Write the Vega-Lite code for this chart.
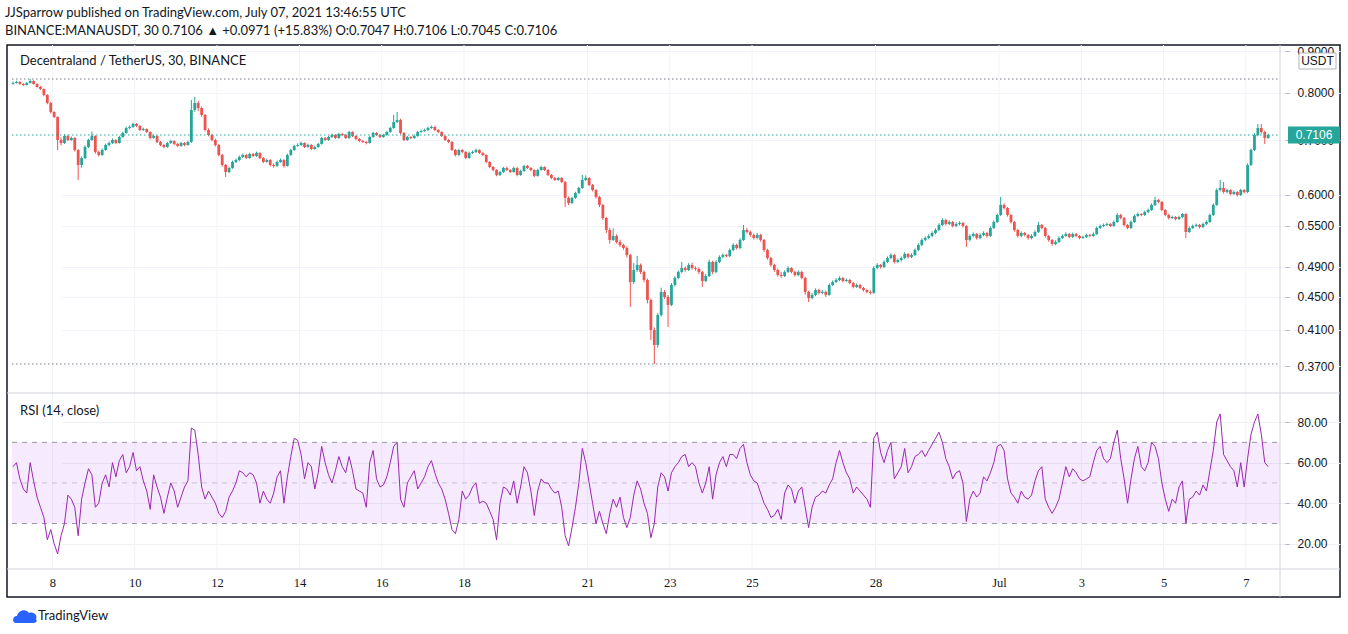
{
"$schema":"https://vega.github.io/schema/vega-lite/v6.json",
"width":1333,"height":552,
"autosize":{"type":"none"},
"padding":{"left":7,"top":45,"right":8,"bottom":37},
"background":"white",
"title":{"text":"JJSparrow published on TradingView.com, July 07, 2021 13:46:55 UTC","subtitle":"BINANCE:MANAUSDT, 30  0.7106 ▲ +0.0971 (+15.83%)  O:0.7047  H:0.7106  L:0.7045  C:0.7106","anchor":"start","frame":"group","font":"Lato","fontSize":13,"fontWeight":"normal","color":"#131722","subtitleFont":"Lato","subtitleFontSize":13,"subtitleColor":"#131722","subtitlePadding":5,"offset":7,"dx":-2},
"datasets":{
"last":[{"c":0.7106}],
"days":[{"t":"2021-06-08T00:00Z"},{"t":"2021-06-10T00:00Z"},{"t":"2021-06-12T00:00Z"},{"t":"2021-06-14T00:00Z"},{"t":"2021-06-16T00:00Z"},{"t":"2021-06-18T00:00Z"},{"t":"2021-06-21T00:00Z"},{"t":"2021-06-23T00:00Z"},{"t":"2021-06-25T00:00Z"},{"t":"2021-06-28T00:00Z"},{"t":"2021-07-01T00:00Z"},{"t":"2021-07-03T00:00Z"},{"t":"2021-07-05T00:00Z"},{"t":"2021-07-07T00:00Z"}],
"candles":[
{"t":"2021-06-07T01:00Z","o":0.8210,"h":0.8262,"l":0.8190,"c":0.8230,"r":58},
{"t":"2021-06-07T03:00Z","o":0.8230,"h":0.8280,"l":0.8215,"c":0.8253,"r":60},
{"t":"2021-06-07T05:00Z","o":0.8253,"h":0.8270,"l":0.8190,"c":0.8207,"r":52},
{"t":"2021-06-07T07:00Z","o":0.8207,"h":0.8225,"l":0.8160,"c":0.8183,"r":47},
{"t":"2021-06-07T09:00Z","o":0.8183,"h":0.8250,"l":0.8170,"c":0.8230,"r":45},
{"t":"2021-06-07T11:00Z","o":0.8230,"h":0.8322,"l":0.8215,"c":0.8276,"r":60},
{"t":"2021-06-07T13:00Z","o":0.8276,"h":0.8290,"l":0.8190,"c":0.8207,"r":51},
{"t":"2021-06-07T15:00Z","o":0.8207,"h":0.8220,"l":0.8120,"c":0.8137,"r":43},
{"t":"2021-06-07T17:00Z","o":0.8137,"h":0.8160,"l":0.8070,"c":0.8091,"r":38},
{"t":"2021-06-07T19:00Z","o":0.8091,"h":0.8105,"l":0.7930,"c":0.7956,"r":33},
{"t":"2021-06-07T21:00Z","o":0.7956,"h":0.7975,"l":0.7750,"c":0.7778,"r":22},
{"t":"2021-06-07T23:00Z","o":0.7778,"h":0.7800,"l":0.7550,"c":0.7583,"r":27},
{"t":"2021-06-08T01:00Z","o":0.7583,"h":0.7600,"l":0.7455,"c":0.7477,"r":20},
{"t":"2021-06-08T03:00Z","o":0.7477,"h":0.7490,"l":0.6812,"c":0.7007,"r":15},
{"t":"2021-06-08T05:00Z","o":0.7007,"h":0.7060,"l":0.6900,"c":0.6948,"r":24},
{"t":"2021-06-08T07:00Z","o":0.6948,"h":0.7120,"l":0.6930,"c":0.7087,"r":30},
{"t":"2021-06-08T09:00Z","o":0.7087,"h":0.7110,"l":0.6985,"c":0.7007,"r":44},
{"t":"2021-06-08T11:00Z","o":0.7007,"h":0.7075,"l":0.6990,"c":0.7047,"r":42},
{"t":"2021-06-08T13:00Z","o":0.7047,"h":0.7060,"l":0.6780,"c":0.6812,"r":38},
{"t":"2021-06-08T15:00Z","o":0.6812,"h":0.6830,"l":0.6259,"c":0.6530,"r":24},
{"t":"2021-06-08T17:00Z","o":0.6530,"h":0.6690,"l":0.6480,"c":0.6660,"r":42},
{"t":"2021-06-08T19:00Z","o":0.6660,"h":0.6900,"l":0.6640,"c":0.6870,"r":50},
{"t":"2021-06-08T21:00Z","o":0.6870,"h":0.7030,"l":0.6850,"c":0.7007,"r":57},
{"t":"2021-06-08T23:00Z","o":0.7007,"h":0.7174,"l":0.6990,"c":0.7087,"r":54},
{"t":"2021-06-09T01:00Z","o":0.7087,"h":0.7100,"l":0.6740,"c":0.6774,"r":38},
{"t":"2021-06-09T03:00Z","o":0.6774,"h":0.6800,"l":0.6689,"c":0.6717,"r":40},
{"t":"2021-06-09T05:00Z","o":0.6717,"h":0.6840,"l":0.6700,"c":0.6812,"r":50},
{"t":"2021-06-09T07:00Z","o":0.6812,"h":0.6935,"l":0.6795,"c":0.6909,"r":54},
{"t":"2021-06-09T09:00Z","o":0.6909,"h":0.6975,"l":0.6880,"c":0.6948,"r":48},
{"t":"2021-06-09T11:00Z","o":0.6948,"h":0.7040,"l":0.6930,"c":0.7007,"r":60},
{"t":"2021-06-09T13:00Z","o":0.7007,"h":0.7025,"l":0.6925,"c":0.6948,"r":53},
{"t":"2021-06-09T15:00Z","o":0.6948,"h":0.7090,"l":0.6935,"c":0.7067,"r":61},
{"t":"2021-06-09T17:00Z","o":0.7067,"h":0.7175,"l":0.7050,"c":0.7147,"r":64},
{"t":"2021-06-09T19:00Z","o":0.7147,"h":0.7275,"l":0.7130,"c":0.7248,"r":55},
{"t":"2021-06-09T21:00Z","o":0.7248,"h":0.7300,"l":0.7225,"c":0.7269,"r":58},
{"t":"2021-06-09T23:00Z","o":0.7269,"h":0.7360,"l":0.7250,"c":0.7331,"r":65},
{"t":"2021-06-10T01:00Z","o":0.7331,"h":0.7350,"l":0.7265,"c":0.7290,"r":56},
{"t":"2021-06-10T03:00Z","o":0.7290,"h":0.7310,"l":0.7185,"c":0.7207,"r":58},
{"t":"2021-06-10T05:00Z","o":0.7207,"h":0.7255,"l":0.7190,"c":0.7228,"r":51},
{"t":"2021-06-10T07:00Z","o":0.7228,"h":0.7240,"l":0.7145,"c":0.7167,"r":46},
{"t":"2021-06-10T09:00Z","o":0.7167,"h":0.7180,"l":0.7020,"c":0.7047,"r":37},
{"t":"2021-06-10T11:00Z","o":0.7047,"h":0.7115,"l":0.7030,"c":0.7087,"r":54},
{"t":"2021-06-10T13:00Z","o":0.7087,"h":0.7100,"l":0.6945,"c":0.6968,"r":48},
{"t":"2021-06-10T15:00Z","o":0.6968,"h":0.6990,"l":0.6885,"c":0.6909,"r":43},
{"t":"2021-06-10T17:00Z","o":0.6909,"h":0.6930,"l":0.6845,"c":0.6870,"r":35},
{"t":"2021-06-10T19:00Z","o":0.6870,"h":0.6970,"l":0.6855,"c":0.6948,"r":43},
{"t":"2021-06-10T21:00Z","o":0.6948,"h":0.7010,"l":0.6930,"c":0.6987,"r":50},
{"t":"2021-06-10T23:00Z","o":0.6987,"h":0.7000,"l":0.6905,"c":0.6929,"r":46},
{"t":"2021-06-11T01:00Z","o":0.6929,"h":0.6950,"l":0.6865,"c":0.6890,"r":38},
{"t":"2021-06-11T03:00Z","o":0.6890,"h":0.6970,"l":0.6875,"c":0.6948,"r":43},
{"t":"2021-06-11T05:00Z","o":0.6948,"h":0.6965,"l":0.6885,"c":0.6909,"r":48},
{"t":"2021-06-11T07:00Z","o":0.6909,"h":0.6995,"l":0.6895,"c":0.6968,"r":51},
{"t":"2021-06-11T09:00Z","o":0.6968,"h":0.7844,"l":0.6950,"c":0.7625,"r":77},
{"t":"2021-06-11T11:00Z","o":0.7625,"h":0.7911,"l":0.7590,"c":0.7778,"r":76},
{"t":"2021-06-11T13:00Z","o":0.7778,"h":0.7830,"l":0.7600,"c":0.7669,"r":64},
{"t":"2021-06-11T15:00Z","o":0.7669,"h":0.7700,"l":0.7480,"c":0.7519,"r":48},
{"t":"2021-06-11T17:00Z","o":0.7519,"h":0.7540,"l":0.7180,"c":0.7207,"r":42},
{"t":"2021-06-11T19:00Z","o":0.7207,"h":0.7240,"l":0.7080,"c":0.7107,"r":46},
{"t":"2021-06-11T21:00Z","o":0.7107,"h":0.7130,"l":0.6980,"c":0.7007,"r":43},
{"t":"2021-06-11T23:00Z","o":0.7007,"h":0.7030,"l":0.6880,"c":0.6909,"r":40},
{"t":"2021-06-12T01:00Z","o":0.6909,"h":0.6925,"l":0.6690,"c":0.6717,"r":35},
{"t":"2021-06-12T03:00Z","o":0.6717,"h":0.6735,"l":0.6500,"c":0.6530,"r":33},
{"t":"2021-06-12T05:00Z","o":0.6530,"h":0.6550,"l":0.6313,"c":0.6402,"r":36},
{"t":"2021-06-12T07:00Z","o":0.6402,"h":0.6500,"l":0.6380,"c":0.6475,"r":43},
{"t":"2021-06-12T09:00Z","o":0.6475,"h":0.6610,"l":0.6460,"c":0.6586,"r":46},
{"t":"2021-06-12T11:00Z","o":0.6586,"h":0.6650,"l":0.6565,"c":0.6622,"r":50},
{"t":"2021-06-12T13:00Z","o":0.6622,"h":0.6705,"l":0.6600,"c":0.6679,"r":56},
{"t":"2021-06-12T15:00Z","o":0.6679,"h":0.6745,"l":0.6660,"c":0.6717,"r":55},
{"t":"2021-06-12T17:00Z","o":0.6717,"h":0.6735,"l":0.6640,"c":0.6660,"r":53},
{"t":"2021-06-12T19:00Z","o":0.6660,"h":0.6760,"l":0.6645,"c":0.6736,"r":55},
{"t":"2021-06-12T21:00Z","o":0.6736,"h":0.6755,"l":0.6675,"c":0.6698,"r":54},
{"t":"2021-06-12T23:00Z","o":0.6698,"h":0.6780,"l":0.6680,"c":0.6755,"r":50},
{"t":"2021-06-13T01:00Z","o":0.6755,"h":0.6770,"l":0.6640,"c":0.6660,"r":40},
{"t":"2021-06-13T03:00Z","o":0.6660,"h":0.6680,"l":0.6565,"c":0.6586,"r":46},
{"t":"2021-06-13T05:00Z","o":0.6586,"h":0.6645,"l":0.6570,"c":0.6622,"r":42},
{"t":"2021-06-13T07:00Z","o":0.6622,"h":0.6640,"l":0.6505,"c":0.6530,"r":40},
{"t":"2021-06-13T09:00Z","o":0.6530,"h":0.6560,"l":0.6480,"c":0.6512,"r":45},
{"t":"2021-06-13T11:00Z","o":0.6512,"h":0.6610,"l":0.6495,"c":0.6586,"r":53},
{"t":"2021-06-13T13:00Z","o":0.6586,"h":0.6650,"l":0.6570,"c":0.6622,"r":56},
{"t":"2021-06-13T15:00Z","o":0.6622,"h":0.6640,"l":0.6480,"c":0.6512,"r":40},
{"t":"2021-06-13T17:00Z","o":0.6512,"h":0.6740,"l":0.6500,"c":0.6717,"r":53},
{"t":"2021-06-13T19:00Z","o":0.6717,"h":0.6835,"l":0.6700,"c":0.6812,"r":63},
{"t":"2021-06-13T21:00Z","o":0.6812,"h":0.6915,"l":0.6795,"c":0.6890,"r":72},
{"t":"2021-06-13T23:00Z","o":0.6890,"h":0.6940,"l":0.6875,"c":0.6909,"r":71},
{"t":"2021-06-14T01:00Z","o":0.6909,"h":0.6975,"l":0.6890,"c":0.6948,"r":64},
{"t":"2021-06-14T03:00Z","o":0.6948,"h":0.6960,"l":0.6850,"c":0.6870,"r":52},
{"t":"2021-06-14T05:00Z","o":0.6870,"h":0.6935,"l":0.6855,"c":0.6909,"r":60},
{"t":"2021-06-14T07:00Z","o":0.6909,"h":0.6925,"l":0.6810,"c":0.6831,"r":58},
{"t":"2021-06-14T09:00Z","o":0.6831,"h":0.6895,"l":0.6815,"c":0.6870,"r":47},
{"t":"2021-06-14T11:00Z","o":0.6870,"h":0.6950,"l":0.6855,"c":0.6929,"r":55},
{"t":"2021-06-14T13:00Z","o":0.6929,"h":0.7070,"l":0.6915,"c":0.7047,"r":68},
{"t":"2021-06-14T15:00Z","o":0.7047,"h":0.7065,"l":0.6985,"c":0.7007,"r":60},
{"t":"2021-06-14T17:00Z","o":0.7007,"h":0.7090,"l":0.6990,"c":0.7067,"r":54},
{"t":"2021-06-14T19:00Z","o":0.7067,"h":0.7135,"l":0.7050,"c":0.7107,"r":50},
{"t":"2021-06-14T21:00Z","o":0.7107,"h":0.7125,"l":0.7025,"c":0.7047,"r":56},
{"t":"2021-06-14T23:00Z","o":0.7047,"h":0.7150,"l":0.7030,"c":0.7127,"r":63},
{"t":"2021-06-15T01:00Z","o":0.7127,"h":0.7150,"l":0.7085,"c":0.7107,"r":58},
{"t":"2021-06-15T03:00Z","o":0.7107,"h":0.7125,"l":0.7025,"c":0.7047,"r":55},
{"t":"2021-06-15T05:00Z","o":0.7047,"h":0.7190,"l":0.7030,"c":0.7167,"r":63},
{"t":"2021-06-15T07:00Z","o":0.7167,"h":0.7180,"l":0.7065,"c":0.7087,"r":56},
{"t":"2021-06-15T09:00Z","o":0.7087,"h":0.7100,"l":0.7005,"c":0.7027,"r":47},
{"t":"2021-06-15T11:00Z","o":0.7027,"h":0.7045,"l":0.6965,"c":0.6987,"r":46},
{"t":"2021-06-15T13:00Z","o":0.6987,"h":0.7010,"l":0.6945,"c":0.6968,"r":45},
{"t":"2021-06-15T15:00Z","o":0.6968,"h":0.6985,"l":0.6920,"c":0.6948,"r":38},
{"t":"2021-06-15T17:00Z","o":0.6948,"h":0.7090,"l":0.6935,"c":0.7067,"r":60},
{"t":"2021-06-15T19:00Z","o":0.7067,"h":0.7170,"l":0.7050,"c":0.7147,"r":66},
{"t":"2021-06-15T21:00Z","o":0.7147,"h":0.7165,"l":0.7085,"c":0.7107,"r":52},
{"t":"2021-06-15T23:00Z","o":0.7107,"h":0.7125,"l":0.7045,"c":0.7067,"r":48},
{"t":"2021-06-16T01:00Z","o":0.7067,"h":0.7130,"l":0.7050,"c":0.7107,"r":49},
{"t":"2021-06-16T03:00Z","o":0.7107,"h":0.7190,"l":0.7090,"c":0.7167,"r":53},
{"t":"2021-06-16T05:00Z","o":0.7167,"h":0.7270,"l":0.7150,"c":0.7248,"r":60},
{"t":"2021-06-16T07:00Z","o":0.7248,"h":0.7519,"l":0.7230,"c":0.7372,"r":68},
{"t":"2021-06-16T09:00Z","o":0.7372,"h":0.7583,"l":0.7350,"c":0.7413,"r":70},
{"t":"2021-06-16T11:00Z","o":0.7413,"h":0.7440,"l":0.7120,"c":0.7147,"r":42},
{"t":"2021-06-16T13:00Z","o":0.7147,"h":0.7165,"l":0.6985,"c":0.7007,"r":38},
{"t":"2021-06-16T15:00Z","o":0.7007,"h":0.7090,"l":0.6990,"c":0.7067,"r":50},
{"t":"2021-06-16T17:00Z","o":0.7067,"h":0.7085,"l":0.7025,"c":0.7047,"r":53},
{"t":"2021-06-16T19:00Z","o":0.7047,"h":0.7110,"l":0.7030,"c":0.7087,"r":56},
{"t":"2021-06-16T21:00Z","o":0.7087,"h":0.7190,"l":0.7070,"c":0.7167,"r":47},
{"t":"2021-06-16T23:00Z","o":0.7167,"h":0.7215,"l":0.7150,"c":0.7187,"r":50},
{"t":"2021-06-17T01:00Z","o":0.7187,"h":0.7235,"l":0.7170,"c":0.7207,"r":53},
{"t":"2021-06-17T03:00Z","o":0.7207,"h":0.7275,"l":0.7190,"c":0.7248,"r":58},
{"t":"2021-06-17T05:00Z","o":0.7248,"h":0.7295,"l":0.7230,"c":0.7269,"r":61},
{"t":"2021-06-17T07:00Z","o":0.7269,"h":0.7285,"l":0.7185,"c":0.7207,"r":55},
{"t":"2021-06-17T09:00Z","o":0.7207,"h":0.7225,"l":0.7145,"c":0.7167,"r":50},
{"t":"2021-06-17T11:00Z","o":0.7167,"h":0.7180,"l":0.7065,"c":0.7087,"r":47},
{"t":"2021-06-17T13:00Z","o":0.7087,"h":0.7100,"l":0.6985,"c":0.7007,"r":42},
{"t":"2021-06-17T15:00Z","o":0.7007,"h":0.7025,"l":0.6945,"c":0.6968,"r":35},
{"t":"2021-06-17T17:00Z","o":0.6968,"h":0.6985,"l":0.6790,"c":0.6812,"r":27},
{"t":"2021-06-17T19:00Z","o":0.6812,"h":0.6830,"l":0.6689,"c":0.6717,"r":25},
{"t":"2021-06-17T21:00Z","o":0.6717,"h":0.6835,"l":0.6700,"c":0.6812,"r":32},
{"t":"2021-06-17T23:00Z","o":0.6812,"h":0.6830,"l":0.6750,"c":0.6774,"r":46},
{"t":"2021-06-18T01:00Z","o":0.6774,"h":0.6790,"l":0.6640,"c":0.6660,"r":42},
{"t":"2021-06-18T03:00Z","o":0.6660,"h":0.6780,"l":0.6645,"c":0.6755,"r":44},
{"t":"2021-06-18T05:00Z","o":0.6755,"h":0.6800,"l":0.6735,"c":0.6774,"r":48},
{"t":"2021-06-18T07:00Z","o":0.6774,"h":0.6835,"l":0.6755,"c":0.6812,"r":50},
{"t":"2021-06-18T09:00Z","o":0.6812,"h":0.6825,"l":0.6735,"c":0.6755,"r":40},
{"t":"2021-06-18T11:00Z","o":0.6755,"h":0.6770,"l":0.6695,"c":0.6717,"r":41},
{"t":"2021-06-18T13:00Z","o":0.6717,"h":0.6730,"l":0.6565,"c":0.6586,"r":40},
{"t":"2021-06-18T15:00Z","o":0.6586,"h":0.6600,"l":0.6470,"c":0.6493,"r":36},
{"t":"2021-06-18T17:00Z","o":0.6493,"h":0.6510,"l":0.6415,"c":0.6438,"r":32},
{"t":"2021-06-18T19:00Z","o":0.6438,"h":0.6455,"l":0.6325,"c":0.6349,"r":22},
{"t":"2021-06-18T21:00Z","o":0.6349,"h":0.6425,"l":0.6330,"c":0.6402,"r":40},
{"t":"2021-06-18T23:00Z","o":0.6402,"h":0.6495,"l":0.6385,"c":0.6475,"r":48},
{"t":"2021-06-19T01:00Z","o":0.6475,"h":0.6495,"l":0.6420,"c":0.6438,"r":47},
{"t":"2021-06-19T03:00Z","o":0.6438,"h":0.6455,"l":0.6385,"c":0.6402,"r":44},
{"t":"2021-06-19T05:00Z","o":0.6402,"h":0.6500,"l":0.6390,"c":0.6475,"r":51},
{"t":"2021-06-19T07:00Z","o":0.6475,"h":0.6490,"l":0.6325,"c":0.6349,"r":40},
{"t":"2021-06-19T09:00Z","o":0.6349,"h":0.6445,"l":0.6335,"c":0.6420,"r":48},
{"t":"2021-06-19T11:00Z","o":0.6420,"h":0.6535,"l":0.6405,"c":0.6512,"r":58},
{"t":"2021-06-19T13:00Z","o":0.6512,"h":0.6530,"l":0.6455,"c":0.6475,"r":55},
{"t":"2021-06-19T15:00Z","o":0.6475,"h":0.6490,"l":0.6415,"c":0.6438,"r":46},
{"t":"2021-06-19T17:00Z","o":0.6438,"h":0.6450,"l":0.6310,"c":0.6331,"r":34},
{"t":"2021-06-19T19:00Z","o":0.6331,"h":0.6460,"l":0.6320,"c":0.6438,"r":46},
{"t":"2021-06-19T21:00Z","o":0.6438,"h":0.6515,"l":0.6425,"c":0.6493,"r":52},
{"t":"2021-06-19T23:00Z","o":0.6493,"h":0.6505,"l":0.6420,"c":0.6438,"r":50},
{"t":"2021-06-20T01:00Z","o":0.6438,"h":0.6455,"l":0.6330,"c":0.6349,"r":50},
{"t":"2021-06-20T03:00Z","o":0.6349,"h":0.6365,"l":0.6275,"c":0.6295,"r":47},
{"t":"2021-06-20T05:00Z","o":0.6295,"h":0.6315,"l":0.6240,"c":0.6259,"r":45},
{"t":"2021-06-20T07:00Z","o":0.6259,"h":0.6315,"l":0.6245,"c":0.6295,"r":46},
{"t":"2021-06-20T09:00Z","o":0.6295,"h":0.6310,"l":0.6205,"c":0.6224,"r":38},
{"t":"2021-06-20T11:00Z","o":0.6224,"h":0.6240,"l":0.5801,"c":0.5950,"r":24},
{"t":"2021-06-20T13:00Z","o":0.5950,"h":0.5975,"l":0.5830,"c":0.5866,"r":19},
{"t":"2021-06-20T15:00Z","o":0.5866,"h":0.5970,"l":0.5850,"c":0.5950,"r":28},
{"t":"2021-06-20T17:00Z","o":0.5950,"h":0.6055,"l":0.5935,"c":0.6034,"r":38},
{"t":"2021-06-20T19:00Z","o":0.6034,"h":0.6140,"l":0.6015,"c":0.6120,"r":50},
{"t":"2021-06-20T21:00Z","o":0.6120,"h":0.6349,"l":0.6105,"c":0.6259,"r":67},
{"t":"2021-06-20T23:00Z","o":0.6259,"h":0.6340,"l":0.6240,"c":0.6295,"r":60},
{"t":"2021-06-21T01:00Z","o":0.6295,"h":0.6310,"l":0.6150,"c":0.6172,"r":50},
{"t":"2021-06-21T03:00Z","o":0.6172,"h":0.6190,"l":0.6060,"c":0.6085,"r":40},
{"t":"2021-06-21T05:00Z","o":0.6085,"h":0.6100,"l":0.5940,"c":0.5967,"r":30},
{"t":"2021-06-21T07:00Z","o":0.5967,"h":0.5985,"l":0.5800,"c":0.5834,"r":36},
{"t":"2021-06-21T09:00Z","o":0.5834,"h":0.5850,"l":0.5590,"c":0.5623,"r":30},
{"t":"2021-06-21T11:00Z","o":0.5623,"h":0.5640,"l":0.5390,"c":0.5436,"r":25},
{"t":"2021-06-21T13:00Z","o":0.5436,"h":0.5470,"l":0.5230,"c":0.5285,"r":35},
{"t":"2021-06-21T15:00Z","o":0.5285,"h":0.5460,"l":0.5270,"c":0.5345,"r":42},
{"t":"2021-06-21T17:00Z","o":0.5345,"h":0.5370,"l":0.5230,"c":0.5255,"r":38},
{"t":"2021-06-21T19:00Z","o":0.5255,"h":0.5290,"l":0.5180,"c":0.5211,"r":43},
{"t":"2021-06-21T21:00Z","o":0.5211,"h":0.5230,"l":0.5140,"c":0.5167,"r":33},
{"t":"2021-06-21T23:00Z","o":0.5167,"h":0.5190,"l":0.5030,"c":0.5066,"r":28},
{"t":"2021-06-22T01:00Z","o":0.5066,"h":0.5080,"l":0.4375,"c":0.4694,"r":33},
{"t":"2021-06-22T03:00Z","o":0.4694,"h":0.4950,"l":0.4670,"c":0.4856,"r":44},
{"t":"2021-06-22T05:00Z","o":0.4856,"h":0.5051,"l":0.4830,"c":0.4925,"r":51},
{"t":"2021-06-22T07:00Z","o":0.4925,"h":0.4945,"l":0.4800,"c":0.4829,"r":47},
{"t":"2021-06-22T09:00Z","o":0.4829,"h":0.4850,"l":0.4690,"c":0.4721,"r":40},
{"t":"2021-06-22T11:00Z","o":0.4721,"h":0.4740,"l":0.4420,"c":0.4462,"r":35},
{"t":"2021-06-22T13:00Z","o":0.4462,"h":0.4480,"l":0.3986,"c":0.4100,"r":23},
{"t":"2021-06-22T15:00Z","o":0.4100,"h":0.4130,"l":0.3725,"c":0.3930,"r":30},
{"t":"2021-06-22T17:00Z","o":0.3930,"h":0.4300,"l":0.3900,"c":0.4277,"r":48},
{"t":"2021-06-22T19:00Z","o":0.4277,"h":0.4620,"l":0.4260,"c":0.4564,"r":55},
{"t":"2021-06-22T21:00Z","o":0.4564,"h":0.4590,"l":0.4475,"c":0.4500,"r":53},
{"t":"2021-06-22T23:00Z","o":0.4500,"h":0.4525,"l":0.4135,"c":0.4400,"r":46},
{"t":"2021-06-23T01:00Z","o":0.4400,"h":0.4680,"l":0.4385,"c":0.4655,"r":55},
{"t":"2021-06-23T03:00Z","o":0.4655,"h":0.4770,"l":0.4635,"c":0.4748,"r":58},
{"t":"2021-06-23T05:00Z","o":0.4748,"h":0.4850,"l":0.4730,"c":0.4829,"r":60},
{"t":"2021-06-23T07:00Z","o":0.4829,"h":0.4966,"l":0.4810,"c":0.4883,"r":63},
{"t":"2021-06-23T09:00Z","o":0.4883,"h":0.4905,"l":0.4830,"c":0.4856,"r":64},
{"t":"2021-06-23T11:00Z","o":0.4856,"h":0.4950,"l":0.4840,"c":0.4925,"r":58},
{"t":"2021-06-23T13:00Z","o":0.4925,"h":0.4960,"l":0.4860,"c":0.4883,"r":60},
{"t":"2021-06-23T15:00Z","o":0.4883,"h":0.4905,"l":0.4845,"c":0.4870,"r":58},
{"t":"2021-06-23T17:00Z","o":0.4870,"h":0.4890,"l":0.4800,"c":0.4828,"r":50},
{"t":"2021-06-23T19:00Z","o":0.4828,"h":0.4845,"l":0.4629,"c":0.4707,"r":45},
{"t":"2021-06-23T21:00Z","o":0.4707,"h":0.4800,"l":0.4690,"c":0.4774,"r":50},
{"t":"2021-06-23T23:00Z","o":0.4774,"h":0.5000,"l":0.4760,"c":0.4967,"r":58},
{"t":"2021-06-24T01:00Z","o":0.4967,"h":0.4985,"l":0.4800,"c":0.4829,"r":42},
{"t":"2021-06-24T03:00Z","o":0.4829,"h":0.4990,"l":0.4810,"c":0.4967,"r":54},
{"t":"2021-06-24T05:00Z","o":0.4967,"h":0.5060,"l":0.4950,"c":0.5038,"r":60},
{"t":"2021-06-24T07:00Z","o":0.5038,"h":0.5090,"l":0.5020,"c":0.5066,"r":63},
{"t":"2021-06-24T09:00Z","o":0.5066,"h":0.5080,"l":0.5030,"c":0.5052,"r":58},
{"t":"2021-06-24T11:00Z","o":0.5052,"h":0.5160,"l":0.5035,"c":0.5138,"r":64},
{"t":"2021-06-24T13:00Z","o":0.5138,"h":0.5235,"l":0.5120,"c":0.5211,"r":64},
{"t":"2021-06-24T15:00Z","o":0.5211,"h":0.5230,"l":0.5145,"c":0.5167,"r":62},
{"t":"2021-06-24T17:00Z","o":0.5167,"h":0.5310,"l":0.5150,"c":0.5285,"r":67},
{"t":"2021-06-24T19:00Z","o":0.5285,"h":0.5513,"l":0.5270,"c":0.5436,"r":69},
{"t":"2021-06-24T21:00Z","o":0.5436,"h":0.5470,"l":0.5380,"c":0.5405,"r":60},
{"t":"2021-06-24T23:00Z","o":0.5405,"h":0.5425,"l":0.5335,"c":0.5360,"r":54},
{"t":"2021-06-25T01:00Z","o":0.5360,"h":0.5380,"l":0.5290,"c":0.5315,"r":51},
{"t":"2021-06-25T03:00Z","o":0.5315,"h":0.5390,"l":0.5295,"c":0.5360,"r":50},
{"t":"2021-06-25T05:00Z","o":0.5360,"h":0.5375,"l":0.5260,"c":0.5285,"r":45},
{"t":"2021-06-25T07:00Z","o":0.5285,"h":0.5300,"l":0.5110,"c":0.5138,"r":40},
{"t":"2021-06-25T09:00Z","o":0.5138,"h":0.5155,"l":0.5000,"c":0.5023,"r":37},
{"t":"2021-06-25T11:00Z","o":0.5023,"h":0.5040,"l":0.4900,"c":0.4925,"r":33},
{"t":"2021-06-25T13:00Z","o":0.4925,"h":0.4945,"l":0.4830,"c":0.4856,"r":34},
{"t":"2021-06-25T15:00Z","o":0.4856,"h":0.4875,"l":0.4765,"c":0.4788,"r":37},
{"t":"2021-06-25T17:00Z","o":0.4788,"h":0.4830,"l":0.4750,"c":0.4774,"r":32},
{"t":"2021-06-25T19:00Z","o":0.4774,"h":0.4850,"l":0.4760,"c":0.4829,"r":45},
{"t":"2021-06-25T21:00Z","o":0.4829,"h":0.4905,"l":0.4815,"c":0.4883,"r":49},
{"t":"2021-06-25T23:00Z","o":0.4883,"h":0.4895,"l":0.4810,"c":0.4829,"r":47},
{"t":"2021-06-26T01:00Z","o":0.4829,"h":0.4845,"l":0.4765,"c":0.4788,"r":40},
{"t":"2021-06-26T03:00Z","o":0.4788,"h":0.4850,"l":0.4770,"c":0.4829,"r":46},
{"t":"2021-06-26T05:00Z","o":0.4829,"h":0.4845,"l":0.4730,"c":0.4748,"r":48},
{"t":"2021-06-26T07:00Z","o":0.4748,"h":0.4765,"l":0.4530,"c":0.4564,"r":38},
{"t":"2021-06-26T09:00Z","o":0.4564,"h":0.4580,"l":0.4437,"c":0.4487,"r":28},
{"t":"2021-06-26T11:00Z","o":0.4487,"h":0.4550,"l":0.4470,"c":0.4526,"r":38},
{"t":"2021-06-26T13:00Z","o":0.4526,"h":0.4610,"l":0.4510,"c":0.4589,"r":43},
{"t":"2021-06-26T15:00Z","o":0.4589,"h":0.4605,"l":0.4530,"c":0.4551,"r":44},
{"t":"2021-06-26T17:00Z","o":0.4551,"h":0.4590,"l":0.4535,"c":0.4564,"r":46},
{"t":"2021-06-26T19:00Z","o":0.4564,"h":0.4580,"l":0.4500,"c":0.4526,"r":45},
{"t":"2021-06-26T21:00Z","o":0.4526,"h":0.4675,"l":0.4515,"c":0.4655,"r":49},
{"t":"2021-06-26T23:00Z","o":0.4655,"h":0.4715,"l":0.4640,"c":0.4694,"r":52},
{"t":"2021-06-27T01:00Z","o":0.4694,"h":0.4745,"l":0.4680,"c":0.4721,"r":60},
{"t":"2021-06-27T03:00Z","o":0.4721,"h":0.4770,"l":0.4705,"c":0.4748,"r":66},
{"t":"2021-06-27T05:00Z","o":0.4748,"h":0.4760,"l":0.4690,"c":0.4707,"r":60},
{"t":"2021-06-27T07:00Z","o":0.4707,"h":0.4740,"l":0.4695,"c":0.4721,"r":55},
{"t":"2021-06-27T09:00Z","o":0.4721,"h":0.4735,"l":0.4665,"c":0.4681,"r":52},
{"t":"2021-06-27T11:00Z","o":0.4681,"h":0.4695,"l":0.4610,"c":0.4629,"r":45},
{"t":"2021-06-27T13:00Z","o":0.4629,"h":0.4675,"l":0.4615,"c":0.4655,"r":48},
{"t":"2021-06-27T15:00Z","o":0.4655,"h":0.4670,"l":0.4600,"c":0.4616,"r":46},
{"t":"2021-06-27T17:00Z","o":0.4616,"h":0.4630,"l":0.4570,"c":0.4589,"r":44},
{"t":"2021-06-27T19:00Z","o":0.4589,"h":0.4600,"l":0.4545,"c":0.4564,"r":42},
{"t":"2021-06-27T21:00Z","o":0.4564,"h":0.4585,"l":0.4530,"c":0.4551,"r":38},
{"t":"2021-06-27T23:00Z","o":0.4551,"h":0.4910,"l":0.4540,"c":0.4883,"r":72},
{"t":"2021-06-28T01:00Z","o":0.4883,"h":0.4950,"l":0.4865,"c":0.4925,"r":75},
{"t":"2021-06-28T03:00Z","o":0.4925,"h":0.4940,"l":0.4875,"c":0.4897,"r":65},
{"t":"2021-06-28T05:00Z","o":0.4897,"h":0.4990,"l":0.4880,"c":0.4967,"r":60},
{"t":"2021-06-28T07:00Z","o":0.4967,"h":0.5045,"l":0.4950,"c":0.5023,"r":66},
{"t":"2021-06-28T09:00Z","o":0.5023,"h":0.5090,"l":0.5005,"c":0.5066,"r":70},
{"t":"2021-06-28T11:00Z","o":0.5066,"h":0.5080,"l":0.4945,"c":0.4967,"r":52},
{"t":"2021-06-28T13:00Z","o":0.4967,"h":0.5015,"l":0.4950,"c":0.4995,"r":55},
{"t":"2021-06-28T15:00Z","o":0.4995,"h":0.5045,"l":0.4975,"c":0.5023,"r":58},
{"t":"2021-06-28T17:00Z","o":0.5023,"h":0.5105,"l":0.5005,"c":0.5080,"r":67},
{"t":"2021-06-28T19:00Z","o":0.5080,"h":0.5095,"l":0.5015,"c":0.5038,"r":55},
{"t":"2021-06-28T21:00Z","o":0.5038,"h":0.5090,"l":0.5020,"c":0.5066,"r":58},
{"t":"2021-06-28T23:00Z","o":0.5066,"h":0.5160,"l":0.5050,"c":0.5138,"r":63},
{"t":"2021-06-29T01:00Z","o":0.5138,"h":0.5235,"l":0.5120,"c":0.5211,"r":64},
{"t":"2021-06-29T03:00Z","o":0.5211,"h":0.5310,"l":0.5195,"c":0.5285,"r":66},
{"t":"2021-06-29T05:00Z","o":0.5285,"h":0.5340,"l":0.5265,"c":0.5315,"r":63},
{"t":"2021-06-29T07:00Z","o":0.5315,"h":0.5370,"l":0.5295,"c":0.5345,"r":66},
{"t":"2021-06-29T09:00Z","o":0.5345,"h":0.5415,"l":0.5325,"c":0.5390,"r":69},
{"t":"2021-06-29T11:00Z","o":0.5390,"h":0.5460,"l":0.5370,"c":0.5436,"r":72},
{"t":"2021-06-29T13:00Z","o":0.5436,"h":0.5540,"l":0.5420,"c":0.5513,"r":75},
{"t":"2021-06-29T15:00Z","o":0.5513,"h":0.5620,"l":0.5495,"c":0.5591,"r":70},
{"t":"2021-06-29T17:00Z","o":0.5591,"h":0.5610,"l":0.5505,"c":0.5529,"r":62},
{"t":"2021-06-29T19:00Z","o":0.5529,"h":0.5585,"l":0.5510,"c":0.5560,"r":58},
{"t":"2021-06-29T21:00Z","o":0.5560,"h":0.5575,"l":0.5475,"c":0.5498,"r":52},
{"t":"2021-06-29T23:00Z","o":0.5498,"h":0.5555,"l":0.5480,"c":0.5529,"r":55},
{"t":"2021-06-30T01:00Z","o":0.5529,"h":0.5570,"l":0.5505,"c":0.5545,"r":56},
{"t":"2021-06-30T03:00Z","o":0.5545,"h":0.5560,"l":0.5475,"c":0.5498,"r":50},
{"t":"2021-06-30T05:00Z","o":0.5498,"h":0.5510,"l":0.5182,"c":0.5285,"r":31},
{"t":"2021-06-30T07:00Z","o":0.5285,"h":0.5370,"l":0.5265,"c":0.5345,"r":42},
{"t":"2021-06-30T09:00Z","o":0.5345,"h":0.5400,"l":0.5325,"c":0.5375,"r":46},
{"t":"2021-06-30T11:00Z","o":0.5375,"h":0.5390,"l":0.5290,"c":0.5315,"r":43},
{"t":"2021-06-30T13:00Z","o":0.5315,"h":0.5385,"l":0.5295,"c":0.5360,"r":45},
{"t":"2021-06-30T15:00Z","o":0.5360,"h":0.5415,"l":0.5340,"c":0.5390,"r":53},
{"t":"2021-06-30T17:00Z","o":0.5390,"h":0.5405,"l":0.5320,"c":0.5345,"r":51},
{"t":"2021-06-30T19:00Z","o":0.5345,"h":0.5490,"l":0.5330,"c":0.5467,"r":55},
{"t":"2021-06-30T21:00Z","o":0.5467,"h":0.5585,"l":0.5450,"c":0.5560,"r":60},
{"t":"2021-06-30T23:00Z","o":0.5560,"h":0.5695,"l":0.5545,"c":0.5671,"r":68},
{"t":"2021-07-01T01:00Z","o":0.5671,"h":0.5967,"l":0.5655,"c":0.5834,"r":69},
{"t":"2021-07-01T03:00Z","o":0.5834,"h":0.5860,"l":0.5760,"c":0.5784,"r":66},
{"t":"2021-07-01T05:00Z","o":0.5784,"h":0.5800,"l":0.5645,"c":0.5671,"r":52},
{"t":"2021-07-01T07:00Z","o":0.5671,"h":0.5690,"l":0.5535,"c":0.5560,"r":45},
{"t":"2021-07-01T09:00Z","o":0.5560,"h":0.5575,"l":0.5410,"c":0.5436,"r":43},
{"t":"2021-07-01T11:00Z","o":0.5436,"h":0.5455,"l":0.5320,"c":0.5345,"r":40},
{"t":"2021-07-01T13:00Z","o":0.5345,"h":0.5415,"l":0.5325,"c":0.5390,"r":46},
{"t":"2021-07-01T15:00Z","o":0.5390,"h":0.5405,"l":0.5340,"c":0.5360,"r":43},
{"t":"2021-07-01T17:00Z","o":0.5360,"h":0.5375,"l":0.5290,"c":0.5315,"r":42},
{"t":"2021-07-01T19:00Z","o":0.5315,"h":0.5370,"l":0.5295,"c":0.5345,"r":44},
{"t":"2021-07-01T21:00Z","o":0.5345,"h":0.5430,"l":0.5330,"c":0.5405,"r":51},
{"t":"2021-07-01T23:00Z","o":0.5405,"h":0.5560,"l":0.5390,"c":0.5513,"r":56},
{"t":"2021-07-02T01:00Z","o":0.5513,"h":0.5530,"l":0.5445,"c":0.5467,"r":58},
{"t":"2021-07-02T03:00Z","o":0.5467,"h":0.5480,"l":0.5320,"c":0.5345,"r":42},
{"t":"2021-07-02T05:00Z","o":0.5345,"h":0.5360,"l":0.5260,"c":0.5285,"r":38},
{"t":"2021-07-02T07:00Z","o":0.5285,"h":0.5300,"l":0.5200,"c":0.5226,"r":35},
{"t":"2021-07-02T09:00Z","o":0.5226,"h":0.5280,"l":0.5210,"c":0.5255,"r":38},
{"t":"2021-07-02T11:00Z","o":0.5255,"h":0.5340,"l":0.5240,"c":0.5315,"r":42},
{"t":"2021-07-02T13:00Z","o":0.5315,"h":0.5370,"l":0.5300,"c":0.5345,"r":50},
{"t":"2021-07-02T15:00Z","o":0.5345,"h":0.5400,"l":0.5330,"c":0.5375,"r":58},
{"t":"2021-07-02T17:00Z","o":0.5375,"h":0.5390,"l":0.5310,"c":0.5330,"r":53},
{"t":"2021-07-02T19:00Z","o":0.5330,"h":0.5395,"l":0.5315,"c":0.5375,"r":57},
{"t":"2021-07-02T21:00Z","o":0.5375,"h":0.5390,"l":0.5325,"c":0.5345,"r":55},
{"t":"2021-07-02T23:00Z","o":0.5345,"h":0.5360,"l":0.5295,"c":0.5315,"r":52},
{"t":"2021-07-03T01:00Z","o":0.5315,"h":0.5350,"l":0.5300,"c":0.5330,"r":51},
{"t":"2021-07-03T03:00Z","o":0.5330,"h":0.5380,"l":0.5315,"c":0.5360,"r":52},
{"t":"2021-07-03T05:00Z","o":0.5360,"h":0.5375,"l":0.5325,"c":0.5345,"r":53},
{"t":"2021-07-03T07:00Z","o":0.5345,"h":0.5400,"l":0.5330,"c":0.5375,"r":60},
{"t":"2021-07-03T09:00Z","o":0.5375,"h":0.5490,"l":0.5360,"c":0.5467,"r":66},
{"t":"2021-07-03T11:00Z","o":0.5467,"h":0.5520,"l":0.5450,"c":0.5498,"r":68},
{"t":"2021-07-03T13:00Z","o":0.5498,"h":0.5535,"l":0.5480,"c":0.5513,"r":62},
{"t":"2021-07-03T15:00Z","o":0.5513,"h":0.5550,"l":0.5495,"c":0.5529,"r":60},
{"t":"2021-07-03T17:00Z","o":0.5529,"h":0.5545,"l":0.5480,"c":0.5498,"r":62},
{"t":"2021-07-03T19:00Z","o":0.5498,"h":0.5585,"l":0.5485,"c":0.5560,"r":70},
{"t":"2021-07-03T21:00Z","o":0.5560,"h":0.5700,"l":0.5545,"c":0.5671,"r":76},
{"t":"2021-07-03T23:00Z","o":0.5671,"h":0.5690,"l":0.5600,"c":0.5623,"r":62},
{"t":"2021-07-04T01:00Z","o":0.5623,"h":0.5640,"l":0.5490,"c":0.5513,"r":52},
{"t":"2021-07-04T03:00Z","o":0.5513,"h":0.5530,"l":0.5445,"c":0.5467,"r":40},
{"t":"2021-07-04T05:00Z","o":0.5467,"h":0.5585,"l":0.5450,"c":0.5560,"r":52},
{"t":"2021-07-04T07:00Z","o":0.5560,"h":0.5680,"l":0.5545,"c":0.5655,"r":62},
{"t":"2021-07-04T09:00Z","o":0.5655,"h":0.5710,"l":0.5640,"c":0.5687,"r":68},
{"t":"2021-07-04T11:00Z","o":0.5687,"h":0.5700,"l":0.5650,"c":0.5671,"r":58},
{"t":"2021-07-04T13:00Z","o":0.5671,"h":0.5740,"l":0.5655,"c":0.5719,"r":56},
{"t":"2021-07-04T15:00Z","o":0.5719,"h":0.5775,"l":0.5700,"c":0.5751,"r":60},
{"t":"2021-07-04T17:00Z","o":0.5751,"h":0.5860,"l":0.5735,"c":0.5834,"r":70},
{"t":"2021-07-04T19:00Z","o":0.5834,"h":0.5967,"l":0.5815,"c":0.5916,"r":68},
{"t":"2021-07-04T21:00Z","o":0.5916,"h":0.5935,"l":0.5860,"c":0.5883,"r":62},
{"t":"2021-07-04T23:00Z","o":0.5883,"h":0.5900,"l":0.5730,"c":0.5751,"r":50},
{"t":"2021-07-05T01:00Z","o":0.5751,"h":0.5765,"l":0.5650,"c":0.5671,"r":42},
{"t":"2021-07-05T03:00Z","o":0.5671,"h":0.5690,"l":0.5600,"c":0.5623,"r":36},
{"t":"2021-07-05T05:00Z","o":0.5623,"h":0.5660,"l":0.5605,"c":0.5639,"r":42},
{"t":"2021-07-05T07:00Z","o":0.5639,"h":0.5655,"l":0.5585,"c":0.5607,"r":40},
{"t":"2021-07-05T09:00Z","o":0.5607,"h":0.5660,"l":0.5590,"c":0.5639,"r":48},
{"t":"2021-07-05T11:00Z","o":0.5639,"h":0.5703,"l":0.5620,"c":0.5687,"r":51},
{"t":"2021-07-05T13:00Z","o":0.5687,"h":0.5700,"l":0.5315,"c":0.5405,"r":30},
{"t":"2021-07-05T15:00Z","o":0.5405,"h":0.5490,"l":0.5390,"c":0.5467,"r":42},
{"t":"2021-07-05T17:00Z","o":0.5467,"h":0.5520,"l":0.5450,"c":0.5498,"r":43},
{"t":"2021-07-05T19:00Z","o":0.5498,"h":0.5535,"l":0.5480,"c":0.5513,"r":46},
{"t":"2021-07-05T21:00Z","o":0.5513,"h":0.5530,"l":0.5460,"c":0.5482,"r":44},
{"t":"2021-07-05T23:00Z","o":0.5482,"h":0.5550,"l":0.5465,"c":0.5529,"r":49},
{"t":"2021-07-06T01:00Z","o":0.5529,"h":0.5585,"l":0.5510,"c":0.5560,"r":46},
{"t":"2021-07-06T03:00Z","o":0.5560,"h":0.5695,"l":0.5545,"c":0.5671,"r":56},
{"t":"2021-07-06T05:00Z","o":0.5671,"h":0.5860,"l":0.5655,"c":0.5834,"r":66},
{"t":"2021-07-06T07:00Z","o":0.5834,"h":0.6110,"l":0.5820,"c":0.6085,"r":80},
{"t":"2021-07-06T09:00Z","o":0.6085,"h":0.6259,"l":0.6060,"c":0.6120,"r":84},
{"t":"2021-07-06T11:00Z","o":0.6120,"h":0.6224,"l":0.6025,"c":0.6051,"r":64},
{"t":"2021-07-06T13:00Z","o":0.6051,"h":0.6110,"l":0.6030,"c":0.6085,"r":61},
{"t":"2021-07-06T15:00Z","o":0.6085,"h":0.6100,"l":0.5995,"c":0.6017,"r":58},
{"t":"2021-07-06T17:00Z","o":0.6017,"h":0.6075,"l":0.6000,"c":0.6051,"r":56},
{"t":"2021-07-06T19:00Z","o":0.6051,"h":0.6065,"l":0.5975,"c":0.6000,"r":48},
{"t":"2021-07-06T21:00Z","o":0.6000,"h":0.6105,"l":0.5985,"c":0.6085,"r":60},
{"t":"2021-07-06T23:00Z","o":0.6085,"h":0.6100,"l":0.6025,"c":0.6051,"r":48},
{"t":"2021-07-07T01:00Z","o":0.6051,"h":0.6560,"l":0.6030,"c":0.6530,"r":62},
{"t":"2021-07-07T03:00Z","o":0.6530,"h":0.6840,"l":0.6510,"c":0.6812,"r":74},
{"t":"2021-07-07T05:00Z","o":0.6812,"h":0.7140,"l":0.6790,"c":0.7107,"r":80},
{"t":"2021-07-07T07:00Z","o":0.7107,"h":0.7331,"l":0.7080,"c":0.7248,"r":84},
{"t":"2021-07-07T09:00Z","o":0.7248,"h":0.7331,"l":0.7130,"c":0.7167,"r":74},
{"t":"2021-07-07T11:00Z","o":0.7167,"h":0.7190,"l":0.6929,"c":0.7047,"r":60},
{"t":"2021-07-07T13:00Z","o":0.7047,"h":0.7130,"l":0.7030,"c":0.7106,"r":58}
]},
"layer":[
{"layer":[
 {"data":{"name":"days"},"mark":{"type":"rule","color":"#f0f3fa","strokeWidth":1},
  "encoding":{"x":{"field":"t","type":"temporal"},"y":{"datum":0.3432},"y2":{"datum":0.916}}},
 {"data":{"name":"candles"},"mark":{"type":"rule","strokeWidth":1},
  "encoding":{
   "x":{"field":"t","type":"temporal","scale":{"type":"utc","domain":[{"year":2021,"month":6,"date":7,"hours":0,"minutes":24,"utc":true},{"year":2021,"month":7,"date":7,"hours":19,"minutes":54,"utc":true}],"range":[0,1278],"nice":false},
    "axis":{"values":[{"year":2021,"month":6,"date":8,"utc":true},{"year":2021,"month":6,"date":10,"utc":true},{"year":2021,"month":6,"date":12,"utc":true},{"year":2021,"month":6,"date":14,"utc":true},{"year":2021,"month":6,"date":16,"utc":true},{"year":2021,"month":6,"date":18,"utc":true},{"year":2021,"month":6,"date":21,"utc":true},{"year":2021,"month":6,"date":23,"utc":true},{"year":2021,"month":6,"date":25,"utc":true},{"year":2021,"month":6,"date":28,"utc":true},{"year":2021,"month":7,"date":1,"utc":true},{"year":2021,"month":7,"date":3,"utc":true},{"year":2021,"month":7,"date":5,"utc":true},{"year":2021,"month":7,"date":7,"utc":true}],
     "labelExpr":"utcdate(datum.value) == 1 ? 'Jul' : '' + utcdate(datum.value)","grid":false,"domain":false,"ticks":false,"tickSize":0,"offset":-28,"labelPadding":7,"labelFont":"Liberation Sans Narrow","labelFontSize":12.5,"labelColor":"#131722","labelOverlap":false,"title":null}},
   "y":{"field":"l","type":"quantitative","scale":{"type":"log","domain":[0.3432,0.916],"range":[348,0],"nice":false,"zero":false},
    "axis":{"orient":"right","offset":-55,"values":[0.37,0.41,0.45,0.49,0.55,0.6,0.7,0.8,0.9],"format":".4f","title":null,"grid":true,"gridColor":"#f0f3fa","domain":false,"tickSize":4,"tickColor":"#b2b5be","labelPadding":8}},
   "y2":{"field":"h"},
   "color":{"condition":{"test":"datum.c >= datum.o","value":"#26a69a"},"value":"#ef5350"}}},
 {"data":{"name":"candles"},"mark":{"type":"bar","width":2.8},
  "encoding":{"x":{"field":"t","type":"temporal"},"y":{"field":"o","type":"quantitative"},"y2":{"field":"c"},
   "color":{"condition":{"test":"datum.c >= datum.o","value":"#26a69a"},"value":"#ef5350"}}},
 {"data":{"name":"candles"},"mark":{"type":"rule","color":"#787b86","strokeDash":[1.5,2.5],"strokeWidth":1},
  "encoding":{"y":{"aggregate":"max","field":"h","type":"quantitative"},"x":{"datum":{"year":2021,"month":6,"date":7,"hours":0,"minutes":24,"utc":true},"type":"temporal"},"x2":{"datum":{"year":2021,"month":7,"date":7,"hours":19,"minutes":54,"utc":true}}}},
 {"data":{"name":"candles"},"mark":{"type":"rule","color":"#787b86","strokeDash":[1.5,2.5],"strokeWidth":1},
  "encoding":{"y":{"aggregate":"min","field":"l","type":"quantitative"},"x":{"datum":{"year":2021,"month":6,"date":7,"hours":0,"minutes":24,"utc":true},"type":"temporal"},"x2":{"datum":{"year":2021,"month":7,"date":7,"hours":19,"minutes":54,"utc":true}}}},
 {"data":{"name":"last"},"mark":{"type":"rule","color":"#26a69a","strokeDash":[1.5,2.5],"strokeWidth":1},
  "encoding":{"y":{"field":"c","type":"quantitative"},"x":{"datum":{"year":2021,"month":6,"date":7,"hours":0,"minutes":24,"utc":true},"type":"temporal"},"x2":{"datum":{"year":2021,"month":7,"date":7,"hours":19,"minutes":54,"utc":true}}}},
 {"data":{"name":"last"},"mark":{"type":"point","shape":"M-1.04,-0.17L0,-0.17L0,0.17L-1.04,0.17Z","size":10000,"filled":true,"color":"#26a69a","opacity":1,"strokeWidth":0},
  "encoding":{"x":{"value":"width"},"y":{"field":"c","type":"quantitative"}}},
 {"data":{"name":"last"},"mark":{"type":"text","color":"white","font":"Liberation Sans","fontSize":12,"align":"center","baseline":"middle","dx":-26},
  "encoding":{"x":{"value":"width"},"y":{"field":"c","type":"quantitative"},"text":{"field":"c","type":"quantitative","format":".4f"}}},
 {"data":{"values":[{}]},"mark":{"type":"point","shape":"M-0.82,-0.16L-0.08,-0.16L-0.08,0.16L-0.82,0.16Z","size":10000,"filled":true,"fill":"white","stroke":"#b2b5be","strokeWidth":1,"opacity":1},
  "encoding":{"x":{"value":"width"},"y":{"datum":0.8756}}},
 {"data":{"values":[{}]},"mark":{"type":"text","text":"USDT","color":"#131722","font":"Liberation Sans","fontSize":12,"align":"center","baseline":"middle","dx":-22.5},
  "encoding":{"x":{"value":"width"},"y":{"datum":0.8756}}},
 {"data":{"values":[{}]},"mark":{"type":"text","text":"Decentraland / TetherUS, 30, BINANCE","color":"#131722","font":"Lato","fontSize":13,"align":"left","baseline":"middle","dx":8},
  "encoding":{"x":{"datum":{"year":2021,"month":6,"date":7,"hours":0,"minutes":24,"utc":true},"type":"temporal"},"y":{"datum":0.8760}}}
]},
{"layer":[
 {"data":{"name":"days"},"mark":{"type":"rule","color":"#f0f3fa","strokeWidth":1},
  "encoding":{"x":{"field":"t","type":"temporal"},"y":{"datum":7.6},"y2":{"datum":94.3}}},
 {"data":{"values":[{}]},"mark":{"type":"rect","color":"#a33cf5","opacity":0.1},
  "encoding":{"x":{"datum":{"year":2021,"month":6,"date":7,"hours":0,"minutes":24,"utc":true},"type":"temporal"},"x2":{"datum":{"year":2021,"month":7,"date":7,"hours":19,"minutes":54,"utc":true}},"y":{"datum":70},"y2":{"datum":30}}},
 {"data":{"values":[{}]},"mark":{"type":"rule","color":"#9598a1","strokeDash":[5,5],"strokeWidth":1},
  "encoding":{"x":{"datum":{"year":2021,"month":6,"date":7,"hours":0,"minutes":24,"utc":true},"type":"temporal"},"x2":{"datum":{"year":2021,"month":7,"date":7,"hours":19,"minutes":54,"utc":true}},"y":{"datum":70}}},
 {"data":{"values":[{}]},"mark":{"type":"rule","color":"#9598a1","strokeDash":[5,5],"strokeWidth":1},
  "encoding":{"x":{"datum":{"year":2021,"month":6,"date":7,"hours":0,"minutes":24,"utc":true},"type":"temporal"},"x2":{"datum":{"year":2021,"month":7,"date":7,"hours":19,"minutes":54,"utc":true}},"y":{"datum":30}}},
 {"data":{"values":[{}]},"mark":{"type":"rule","color":"#9598a1","opacity":0.5,"strokeDash":[5,5],"strokeWidth":1},
  "encoding":{"x":{"datum":{"year":2021,"month":6,"date":7,"hours":0,"minutes":24,"utc":true},"type":"temporal"},"x2":{"datum":{"year":2021,"month":7,"date":7,"hours":19,"minutes":54,"utc":true}},"y":{"datum":50}}},
 {"data":{"name":"candles"},"mark":{"type":"line","color":"#9c27b0","strokeWidth":1},
  "encoding":{"x":{"field":"t","type":"temporal"},
   "y":{"field":"r","type":"quantitative","scale":{"domain":[7.6,94.3],"range":[524,348],"nice":false,"zero":false},
    "axis":{"orient":"right","offset":-55,"values":[20,40,60,80],"format":".2f","title":null,"grid":true,"gridColor":"#eef0f4","domain":false,"tickSize":4,"tickColor":"#b2b5be","labelPadding":8}}}},
 {"data":{"values":[{}]},"mark":{"type":"rule","color":"#d1d4dc","strokeWidth":1},"encoding":{"y":{"datum":94.3}}},
 {"data":{"values":[{}]},"mark":{"type":"rule","color":"#d1d4dc","strokeWidth":1},"encoding":{"y":{"datum":7.6}}},
 {"data":{"values":[{}]},"mark":{"type":"rule","color":"#d1d4dc","strokeWidth":1},"encoding":{"x":{"datum":{"year":2021,"month":7,"date":7,"hours":19,"minutes":54,"utc":true},"type":"temporal"}}},
 {"data":{"values":[{}]},"mark":{"type":"text","text":"RSI (14, close)","color":"#131722","font":"Lato","fontSize":13,"align":"left","baseline":"middle","dx":8},
  "encoding":{"x":{"datum":{"year":2021,"month":6,"date":7,"hours":0,"minutes":24,"utc":true},"type":"temporal"},"y":{"datum":85.5}}},
 {"data":{"values":[{}]},"mark":{"type":"text","text":"TradingView","color":"#131722","font":"Lato","fontSize":13,"align":"left","baseline":"middle","dx":26,"dy":19},
  "encoding":{"x":{"datum":{"year":2021,"month":6,"date":7,"hours":0,"minutes":24,"utc":true},"type":"temporal"},"y":{"value":"height"}}},
 {"data":{"values":[{}]},"mark":{"type":"point","shape":"M0.4,2.6C0.0,2.6 0.0,1.9 0.5,1.9C0.6,1.3 1.4,1.1 1.7,1.6C2.2,1.4 2.6,1.9 2.4,2.2C2.6,2.5 2.3,2.6 2.1,2.6Z","size":400,"filled":true,"color":"#2962ff","opacity":1,"strokeWidth":0},
  "encoding":{"x":{"datum":{"year":2021,"month":6,"date":7,"hours":0,"minutes":24,"utc":true},"type":"temporal"},"y":{"value":"height"}}}
]}
],
"resolve":{"scale":{"y":"independent"},"axis":{"y":"independent"}},
"config":{"view":{"stroke":"#131722","strokeWidth":1.5},"axis":{"labelFont":"Liberation Sans","labelFontSize":12,"labelColor":"#131722"}}
}
